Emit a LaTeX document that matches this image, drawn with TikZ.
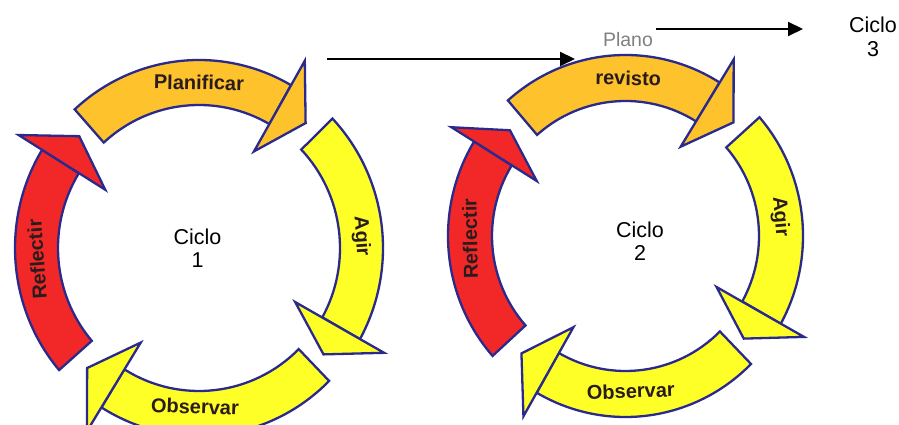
\documentclass[tikz,border=0pt]{standalone}
\usepackage{fontspec}
\setmainfont{Liberation Sans}
\usetikzlibrary{arrows.meta}
\definecolor{outl}{HTML}{2A2A8C}
\definecolor{orng}{HTML}{FDC22C}
\definecolor{yell}{HTML}{FFFF28}
\definecolor{redf}{HTML}{F22828}
\definecolor{labtxt}{HTML}{2A1C1C}
\definecolor{planog}{HTML}{808080}
% band of a ring arrow, from tail angle #2 to base angle #3
\newcommand{\ringband}[3]{%
  \draw[ringline, fill=#1]
    ({\rxo*cos(#2)},{\ryo*sin(#2)}) arc[start angle=#2, end angle=#3, x radius=\rxo, y radius=\ryo]
    -- ({\rxi*cos(#3)},{\ryi*sin(#3)})
    arc[start angle=#3, end angle=#2, x radius=\rxi, y radius=\ryi] -- cycle;}
% head of a ring arrow: base angle #2, tip angle #3
\newcommand{\ringhead}[3]{%
  \draw[ringline, fill=#1]
    ({0.78*\rxi*cos(#2)},{0.78*\ryi*sin(#2)})
    -- ({(\rxo+\rxi)/2*cos(#3)},{(\ryo+\ryi)/2*sin(#3)})
    -- ({1.15*\rxo*cos(#2)},{1.15*\ryo*sin(#2)}) -- cycle;}
% label on the ring: name, angle, rotation, radial offset, text
\newcommand{\ringlab}[5]{%
  \node[lab, rotate=#3] (#1) at ({((\rxo+\rxi)/2+#4)*cos(#2)},{((\ryo+\ryi)/2+#4)*sin(#2)}) {#5};}
\begin{document}
\begin{tikzpicture}[x=1pt, y=1pt,
  ringline/.style={draw=outl, line width=2.3pt, line join=miter},
  lab/.style={font=\fontsize{20}{24}\selectfont\bfseries, text=labtxt, inner sep=0pt},
  ciclo/.style={align=center, font=\fontsize{21.5}{23.5}\selectfont, inner sep=0pt},
  conn/.style={draw=black, line width=2pt, -{Triangle[length=15pt, width=14pt]}}]
\useasboundingbox (0,0) rectangle (899,425);
\clip (0,0) rectangle (899,425);

% ---------- Cycle 1 ----------
\begin{scope}[shift={(199,177)}]
  \def\rxo{184}\def\ryo{188}\def\rxi{141}\def\ryi{143}
  \ringband{orng}{132.5}{60}\ringhead{orng}{60}{49}
  \ringband{yell}{43.5}{-29}\ringhead{yell}{-29}{-40}
  \ringband{yell}{-45}{-122}\ringhead{yell}{-122}{-133.5}
  \ringband{redf}{220.5}{148.5}\ringhead{redf}{148.5}{137.5}
  \ringlab{plan1}{90}{-1}{0}{Planificar}
  \ringlab{agir1}{4}{-86}{0}{Agir}
  \ringlab{obs1}{268.5}{-2}{-7}{Observar}
  \ringlab{ref1}{184}{94}{0}{Reflectir}
\end{scope}
\node[ciclo] (c1) at (197.5,177) {Ciclo\\1};

% ---------- Cycle 2 ----------
\begin{scope}[shift={(625.5,189)}]
  \def\rxo{177.5}\def\ryo{181}\def\rxi{133.5}\def\ryi{135}
  \ringband{orng}{131.5}{58}\ringhead{orng}{58}{46}
  \ringband{yell}{41}{-29}\ringhead{yell}{-29}{-40.5}
  \ringband{yell}{-45}{-120}\ringhead{yell}{-120}{-132}
  \ringband{redf}{221.5}{148.5}\ringhead{redf}{148.5}{138}
  \ringlab{rev2}{89}{-1}{0}{revisto}
  \ringlab{agir2}{7}{-85}{0}{Agir}
  \ringlab{obs2}{272}{2}{-3}{Observar}
  \ringlab{ref2}{181}{91}{0}{Reflectir}
\end{scope}
\node[ciclo] (c2) at (640,184) {Ciclo\\2};

% ---------- Top connectors ----------
\node[font=\fontsize{19.5}{22}\selectfont, text=planog, inner sep=2pt] (plano) at (628,385.5) {Plano};
\node[ciclo] (c3) at (873,388) {Ciclo\\3};
\coordinate (a1s) at (327,366);
\coordinate (a1e) at (575,366);
\coordinate (a2e) at (803,396);
\draw[conn] (a1s) -- (a1e);
\draw[conn] (plano.east |- a2e) ++(1,0) -- (a2e);
\end{tikzpicture}
\end{document}
